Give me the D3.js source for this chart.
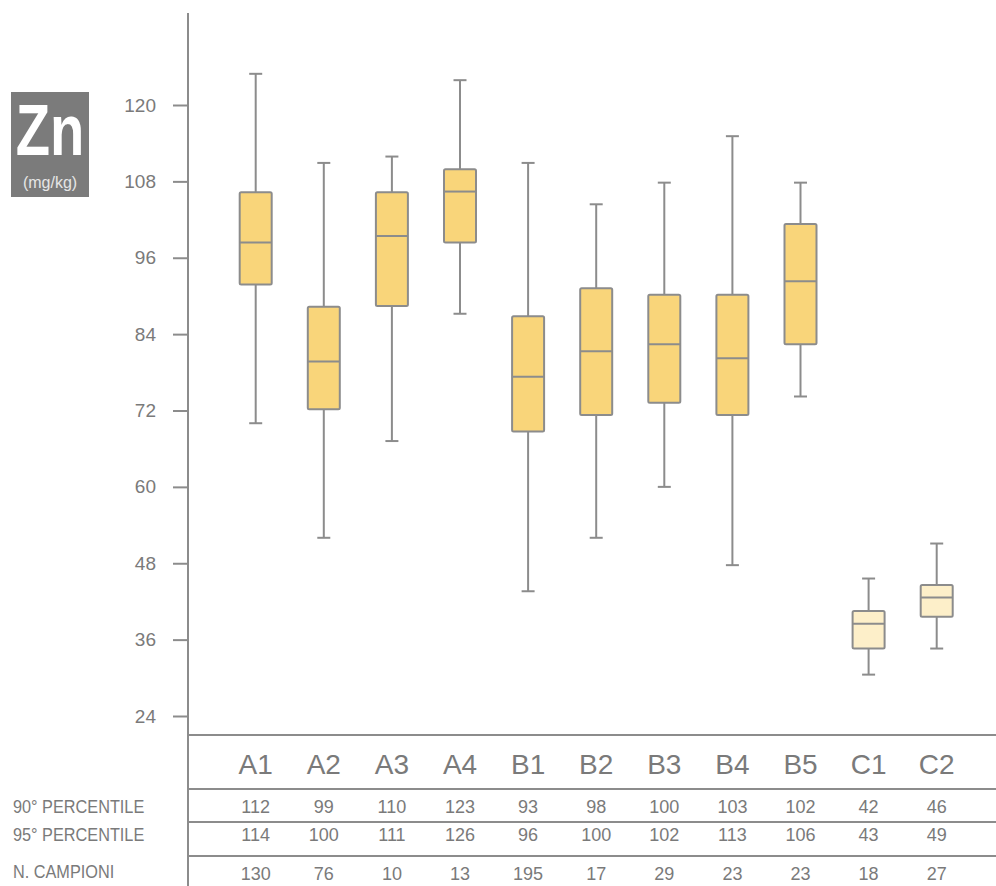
<!DOCTYPE html>
<html>
<head>
<meta charset="utf-8">
<script src="https://cdn.jsdelivr.net/npm/d3@7"></script>
<style>
  html, body { margin: 0; padding: 0; background: #fff; }
  svg { display: block; font-family: "Liberation Sans", Arial, sans-serif; }
</style>
</head>
<body>
<svg id="chart" width="996" height="886"></svg>
<script>
// ---- data ----
const categories   = ["A1","A2","A3","A4","B1","B2","B3","B4","B5","C1","C2"];
const whiskerLow   = [70.0, 52.0, 67.2, 87.2, 43.6, 52.0, 60.0, 47.7, 74.2, 30.5, 34.6];
const quartile1    = [91.8, 72.2, 88.4, 98.4, 68.7, 71.3, 73.2, 71.3, 82.4, 34.6, 39.6];
const medians      = [98.4, 79.7, 99.4, 106.4, 77.3, 81.3, 82.4, 80.2, 92.3, 38.5, 42.6];
const quartile3    = [106.3, 88.3, 106.3, 109.9, 86.8, 91.2, 90.2, 90.2, 101.3, 40.5, 44.6];
const whiskerHigh  = [124.9, 110.9, 111.9, 123.9, 110.9, 104.4, 107.8, 115.1, 107.8, 45.6, 51.1];
const percentile90 = [112, 99, 110, 123, 93, 98, 100, 103, 102, 42, 46];
const percentile95 = [114, 100, 111, 126, 96, 100, 102, 113, 106, 43, 49];
const nCampioni    = [130, 76, 10, 13, 195, 17, 29, 23, 23, 18, 27];
const yTicks       = [24, 36, 48, 60, 72, 84, 96, 108, 120];
const rowLabels    = ["90° PERCENTILE", "95° PERCENTILE", "N. CAMPIONI"];
const element      = "Zn";
const unit         = "(mg/kg)";

// ---- styles ----
const GRAY = "#8c8c8c";
const TEXT = "#7a7a7a";
const FILL_AB = "#f9d57a";
const FILL_C  = "#fdefc9";

const svg = d3.select("#chart");

const x = d3.scalePoint().domain(categories).range([255.7, 936.7]);
const y = d3.scaleLinear().domain([24, 120]).range([716, 105]);

const axisX = 188;

// y axis
const yAxis = d3.axisLeft(y).tickValues(yTicks).tickSize(15).tickPadding(17).tickFormat(d3.format("d"));
const gy = svg.append("g").attr("transform", `translate(${axisX},0)`).call(yAxis);
gy.select(".domain").remove();
gy.selectAll(".tick line").attr("stroke", GRAY).attr("stroke-width", 2);
gy.selectAll(".tick text").attr("fill", TEXT).attr("font-size", 19).attr("font-family", "Liberation Sans, Arial, sans-serif");

// vertical axis line full height
svg.append("line").attr("x1", axisX).attr("x2", axisX).attr("y1", 13).attr("y2", 886)
  .attr("stroke", GRAY).attr("stroke-width", 2);

// table lines
[735, 789, 822, 856].forEach(yy => {
  svg.append("line").attr("x1", axisX).attr("x2", 996).attr("y1", yy).attr("y2", yy)
    .attr("stroke", GRAY).attr("stroke-width", 2);
});

// element badge
svg.append("rect").attr("x", 11).attr("y", 92).attr("width", 78).attr("height", 105).attr("fill", "#7b7b7b");
svg.append("text").attr("transform", "translate(50,155) scale(0.78,1)")
  .attr("text-anchor", "middle").attr("font-size", 72).attr("font-weight", "bold")
  .attr("fill", "#fff").text(element);
svg.append("text").attr("x", 50).attr("y", 188).attr("text-anchor", "middle")
  .attr("font-size", 16).attr("fill", "#e6e6e6").text(unit);

// boxes
const data = categories.map((c, i) => ({
  c, lo: whiskerLow[i], q1: quartile1[i], med: medians[i], q3: quartile3[i], hi: whiskerHigh[i],
  fill: c.startsWith("C") ? FILL_C : FILL_AB
}));

const bw = 32, cw = 13;
const g = svg.append("g").selectAll("g").data(data).join("g")
  .attr("transform", d => `translate(${x(d.c)},0)`);

g.append("line").attr("x1", 0).attr("x2", 0).attr("y1", d => y(d.hi)).attr("y2", d => y(d.lo))
  .attr("stroke", GRAY).attr("stroke-width", 2);
g.append("line").attr("x1", -cw/2).attr("x2", cw/2).attr("y1", d => y(d.hi)).attr("y2", d => y(d.hi))
  .attr("stroke", GRAY).attr("stroke-width", 2);
g.append("line").attr("x1", -cw/2).attr("x2", cw/2).attr("y1", d => y(d.lo)).attr("y2", d => y(d.lo))
  .attr("stroke", GRAY).attr("stroke-width", 2);
g.append("rect").attr("x", -bw/2).attr("width", bw)
  .attr("y", d => y(d.q3)).attr("height", d => y(d.q1) - y(d.q3))
  .attr("rx", 1.5).attr("fill", d => d.fill).attr("stroke", GRAY).attr("stroke-width", 2);
g.append("line").attr("x1", -bw/2).attr("x2", bw/2).attr("y1", d => y(d.med)).attr("y2", d => y(d.med))
  .attr("stroke", GRAY).attr("stroke-width", 2);

// category labels
svg.append("g").selectAll("text").data(categories).join("text")
  .attr("x", d => x(d)).attr("y", 774).attr("text-anchor", "middle")
  .attr("font-size", 28).attr("fill", TEXT).text(d => d);

// table rows
const rows = [percentile90, percentile95, nCampioni];
const rowBase = [813, 841, 880];
rows.forEach((vals, r) => {
  svg.append("g").selectAll("text").data(vals).join("text")
    .attr("x", (d, i) => x(categories[i])).attr("y", rowBase[r]).attr("text-anchor", "middle")
    .attr("font-size", 18).attr("fill", TEXT).text(d => d);
  svg.append("text").attr("transform", `translate(13,${rowBase[r] - (r === 2 ? 2 : 0)}) scale(0.88,1)`)
    .attr("font-size", 18.5).attr("fill", TEXT).text(rowLabels[r]);
});
</script>
</body>
</html>
